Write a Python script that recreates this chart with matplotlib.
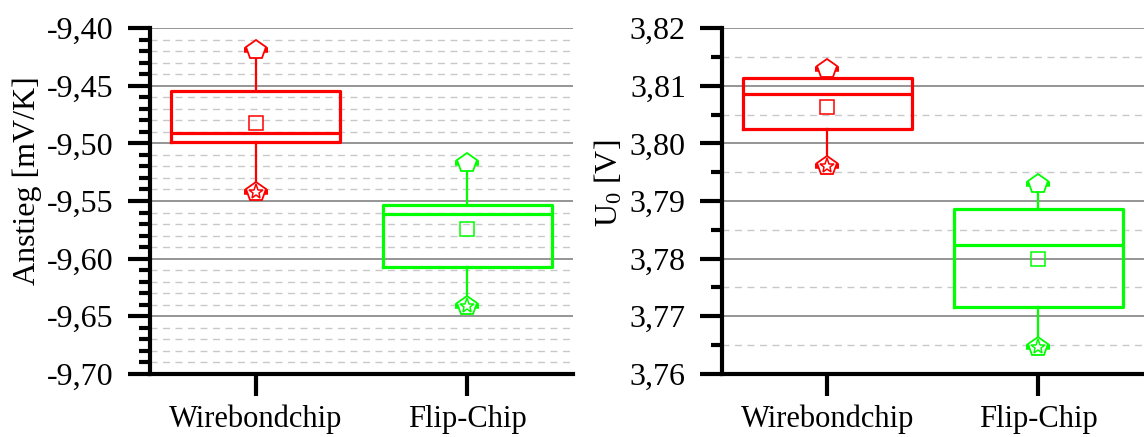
import numpy as np
import matplotlib.pyplot as plt
from matplotlib.ticker import MultipleLocator, FuncFormatter

plt.rcParams['font.family'] = ['Liberation Serif', 'DejaVu Serif']
plt.rcParams['mathtext.fontset'] = 'custom'
plt.rcParams['mathtext.rm'] = 'Liberation Serif'
plt.rcParams['mathtext.it'] = 'Liberation Serif'

# %% Data (box statistics per chip type)

chips = ["Wirebondchip", "Flip-Chip"]
colors = ["#ff0000", "#00ff00"]

# slope [mV/K]
slope_min = [-9.5425, -9.6411]
slope_q1 = [-9.4986, -9.6070]
slope_med = [-9.4908, -9.5616]
slope_mean = [-9.4827, -9.5740]
slope_q3 = [-9.4546, -9.5535]
slope_max = [-9.4190, -9.5174]

# offset voltage U0 [V]
u0_min = [3.7961, 3.7646]
u0_q1 = [3.8024, 3.7717]
u0_med = [3.8086, 3.7824]
u0_mean = [3.8063, 3.7800]
u0_q3 = [3.8114, 3.7886]
u0_max = [3.8129, 3.7930]


def comma(fmt):
    return FuncFormatter(lambda v, pos: (fmt % v).replace(".", ","))


def box_panel(ax, lo, q1, med, mean, q3, hi, ylim, major, minor, fmt, ylabel):
    pos = np.arange(1, len(chips) + 1)
    for i, c in enumerate(colors):
        stats = [dict(med=med[i], q1=q1[i], q3=q3[i], whislo=lo[i],
                      whishi=hi[i], mean=mean[i], fliers=[])]
        ax.bxp(stats, positions=[pos[i]], widths=0.8, showmeans=True,
               showcaps=False, showfliers=False,
               boxprops=dict(color=c, lw=2.3),
               medianprops=dict(color=c, lw=2.3),
               whiskerprops=dict(color=c, lw=1.6),
               meanprops=dict(marker="s", markersize=10, markerfacecolor="none",
                              markeredgecolor=c, markeredgewidth=1.1),
               zorder=3)
        # max / min markers
        for y in (hi[i], lo[i]):
            ax.plot(pos[i], y, marker="_", ms=17, mew=4, color=c, zorder=4)
            ax.plot(pos[i], y, marker="p", ms=15, mfc="white", mec=c,
                    mew=1.3, zorder=5)
        ax.plot(pos[i], lo[i], marker="*", ms=11, mfc="none", mec=c,
                mew=1.1, zorder=6)

    ax.set_xlim(0.5, 2.5)
    ax.set_ylim(*ylim)
    ax.set_xticks(pos)
    ax.set_xticklabels(chips)
    ax.yaxis.set_major_locator(MultipleLocator(major))
    ax.yaxis.set_minor_locator(MultipleLocator(minor))
    ax.yaxis.set_major_formatter(comma(fmt))

    ax.grid(axis="y", which="major", color="#8c8c8c", lw=1.3, zorder=0)
    ax.grid(axis="y", which="minor", color="#c8c8c8", lw=1.0,
            linestyle=(0, (5, 4)), zorder=0)
    ax.set_axisbelow(True)

    for s in ("top", "right"):
        ax.spines[s].set_visible(False)
    for s in ("left", "bottom"):
        ax.spines[s].set_linewidth(3)
    ax.tick_params(axis="y", which="major", direction="out", length=16,
                   width=3, labelsize=23, pad=10)
    ax.tick_params(axis="y", which="minor", direction="out", length=8,
                   width=3)
    ax.tick_params(axis="x", which="major", direction="out", length=16,
                   width=3, labelsize=22, pad=6)
    ax.set_ylabel(ylabel, fontsize=23)


fig = plt.figure(figsize=(11.44, 4.37), dpi=100)
ax1 = fig.add_axes([0.1311, 0.1442, 0.3698, 0.7917])
ax2 = fig.add_axes([0.6311, 0.1442, 0.3689, 0.7917])

box_panel(ax1, slope_min, slope_q1, slope_med, slope_mean, slope_q3, slope_max,
          (-9.70, -9.40), 0.05, 0.01, "%.2f", "Anstieg [mV/K]")
box_panel(ax2, u0_min, u0_q1, u0_med, u0_mean, u0_q3, u0_max,
          (3.76, 3.82), 0.01, 0.005, "%.2f", r"U$_0$ [V]")

ax1.yaxis.set_label_coords(-0.255, 0.56)
ax2.yaxis.set_label_coords(-0.23, 0.55)

fig.savefig("out.png", dpi=100)
